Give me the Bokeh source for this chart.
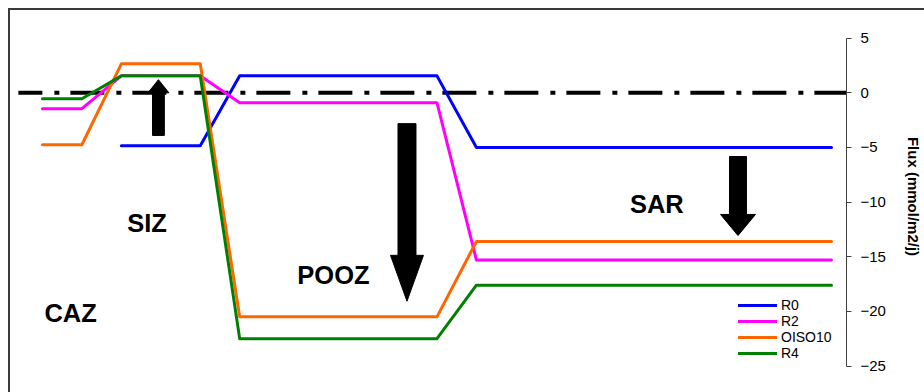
import numpy as np
from bokeh.plotting import figure
from bokeh.models import (ColumnDataSource, FixedTicker, Legend, LegendItem, Range1d)
from bokeh.core.properties import value
from bokeh.embed import file_html
from bokeh.resources import INLINE

# ---- data ----
x_pos = [0, 1, 2, 4, 5, 10, 11, 20]
R0 = [np.nan, np.nan, -4.85, -4.85, 1.55, 1.55, -5.0, -5.0]
R2 = [-1.45, -1.45, 1.55, 1.55, -0.9, -0.9, -15.3, -15.3]
OISO10 = [-4.75, -4.75, 2.65, 2.65, -20.5, -20.5, -13.6, -13.6]
R4 = [-0.55, -0.55, 1.55, 1.55, -22.5, -22.5, -17.6, -17.6]
series_names = ["R0", "R2", "OISO10", "R4"]
y_ticks = [5, 0, -5, -10, -15, -20, -25]
zone_labels = ["CAZ", "SIZ", "POOZ", "SAR"]

# ---- annotation placement ----
zone_x = [0.05, 2.15, 6.46, 14.89]
zone_y = [-20.19, -11.87, -16.71, -10.13]
# arrows: x centre, tail y, tip y, head length (y), shaft width (x), head width (x)
arrow_x = [2.94, 9.24, 17.63]
arrow_tail = [-3.9, -2.82, -5.83]
arrow_tip = [1.2, -19.07, -13.06]
arrow_head_len = [1.2, 4.2, 1.93]
arrow_shaft_w = [0.30, 0.456, 0.43]
arrow_head_w = [0.53, 0.835, 0.886]

colors = ["#0000FF", "#FF00FF", "#FF6600", "#008000"]
FONT = "Liberation Sans"
BORDER = "#3a3a3a"

X0, X1 = -1.063, 20.38
p = figure(width=924, height=392, output_backend="svg", toolbar_location=None,
           x_range=Range1d(X0, X1), y_range=Range1d(-27.42, 8.445),
           x_axis_location=None, y_axis_location="right",
           min_border_left=0, min_border_top=0, min_border_bottom=0,
           min_border_right=0)
# transparent plot fills so the host element's background (border lines) shows
p.background_fill_alpha = 0
p.border_fill_alpha = 0
p.outline_line_color = None
p.xgrid.grid_line_color = None
p.ygrid.grid_line_color = None
p.styles = {
    "background": (f"linear-gradient({BORDER},{BORDER}) 8px 8px / 100% 2px no-repeat, "
                   f"linear-gradient({BORDER},{BORDER}) 8px 8px / 2px 100% no-repeat, white"),
}

ax = p.yaxis[0]
ax.ticker = FixedTicker(ticks=y_ticks)
ax.bounds = (-25, 5)
ax.axis_line_color = "#404040"
ax.axis_line_width = 1
ax.major_tick_line_color = "#404040"
ax.major_tick_in = 0
ax.major_tick_out = 5
ax.minor_tick_line_color = None
ax.major_label_standoff = 9
ax.major_label_text_font = FONT
ax.major_label_text_font_size = "15px"
ax.major_label_text_color = "black"
ax.axis_label = "Flux (mmol/m2/j)"
ax.axis_label_text_font = FONT
ax.axis_label_text_font_size = "15px"
ax.axis_label_text_font_style = "bold"
ax.axis_label_text_color = "black"
ax.axis_label_standoff = 16

# zero dash-dot reference line
p.line(x=[-0.61, X1], y=[0, 0], line_color="black", line_width=4,
       line_dash="34 12 5 11", line_dash_offset=10)

renderers = []
for name, vals, c in zip(series_names, [R0, R2, OISO10, R4], colors):
    src = ColumnDataSource(dict(x=x_pos, y=vals))
    r = p.line("x", "y", source=src, line_color=c, line_width=3,
               line_join="round", line_cap="round")
    renderers.append(r)

# arrows as patches
xs, ys = [], []
for cx, t, tip, hl, sw, hw in zip(arrow_x, arrow_tail, arrow_tip, arrow_head_len,
                                  arrow_shaft_w, arrow_head_w):
    d = 1 if tip > t else -1
    base = tip - d * hl
    xs.append([cx - sw / 2, cx - sw / 2, cx - hw / 2, cx, cx + hw / 2, cx + sw / 2, cx + sw / 2])
    ys.append([t, base, base, tip, base, base, t])
p.patches(xs, ys, fill_color="black", line_color="black", line_width=1)

# zone labels
tsrc = ColumnDataSource(dict(x=zone_x, y=zone_y, t=zone_labels))
p.text("x", "y", text="t", source=tsrc, text_font=value(FONT),
       text_font_size="25.5px", text_font_style="bold", text_color="black",
       text_align="left", text_baseline="alphabetic")

legend = Legend(items=[LegendItem(label=n, renderers=[r]) for n, r in zip(series_names, renderers)],
                location=(738, 31), orientation="vertical",
                padding=0, margin=0, spacing=0,
                glyph_width=39, glyph_height=12, label_height=12,
                label_standoff=4, label_text_font=FONT,
                label_text_font_size="14px",
                label_text_color="black",
                border_line_color=None, background_fill_alpha=0)
p.add_layout(legend)

open("out.html", "w").write(file_html(p, INLINE))
